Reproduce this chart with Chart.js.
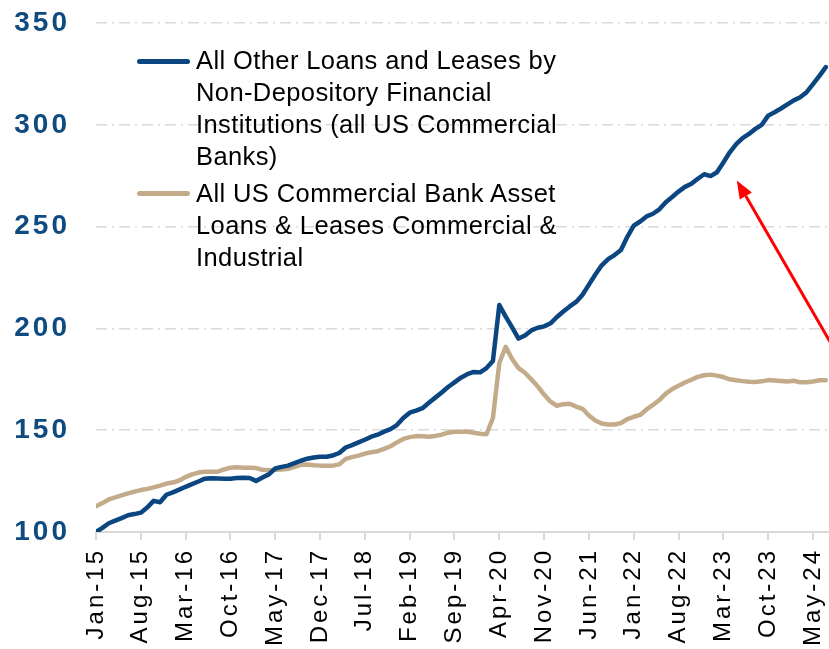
<!DOCTYPE html>
<html>
<head>
<meta charset="utf-8">
<script src="https://cdn.jsdelivr.net/npm/chart.js@4.4.1/dist/chart.umd.min.js"></script>
<style>
  body { margin: 0; background: #fff; }
  #wrap { position: relative; width: 829px; height: 649px; overflow: hidden; }
  .swatch { position: absolute; left: 137px; width: 53px; height: 5px; border-radius: 3px; }
  .label { position: absolute; left: 196px; font-family: "Liberation Sans", Arial, sans-serif;
           font-size: 25.5px; line-height: 31.7px; letter-spacing: 0.4px; color: #000; white-space: nowrap; }
</style>
</head>
<body>
<div id="wrap">
  <canvas id="chart" width="829" height="649"></canvas>
  <div class="swatch" style="top:58.5px;background:#0b4680"></div>
  <div class="label" style="top:45.4px">All Other Loans and Leases by<br>Non-Depository Financial<br>Institutions (all US Commercial<br>Banks)</div>
  <div class="swatch" style="top:191px;background:#c3ab8a"></div>
  <div class="label" style="top:178.4px">All US Commercial Bank Asset<br>Loans &amp; Leases Commercial &amp;<br>Industrial</div>
</div>
<script>
// index, Jan-15 = 0 ... Jul-24 = 114 (monthly)
const tickLabels = ['Jan-15', 'Aug-15', 'Mar-16', 'Oct-16', 'May-17', 'Dec-17', 'Jul-18', 'Feb-19', 'Sep-19',
    'Apr-20', 'Nov-20', 'Jun-21', 'Jan-22', 'Aug-22', 'Mar-23', 'Oct-23', 'May-24'];

// All Other Loans and Leases by Non-Depository Financial Institutions
const nonDepository = [
    100, 102, 104.3, 105.6, 106.8, 108.2, 108.8, 109.5, 112, 115.3,
    114.6, 118.3, 119.5, 120.8, 122.2, 123.5, 124.8, 126.2, 126.4, 126.3,
    126.2, 126.2, 126.5, 126.6, 126.5, 125.1, 126.8, 128.3, 131.2, 132,
    132.6, 133.8, 135, 136, 136.6, 137, 137, 137.6, 138.8, 141.5,
    142.7, 144, 145.3, 146.8, 147.8, 149.3, 150.5, 152.5, 156, 158.6,
    159.6, 160.8, 163.5, 166, 168.5, 171.2, 173.5, 175.8, 177.5, 178.6,
    178.4, 180.5, 184, 211.5, 205.8, 200.5, 195, 196.5, 199, 200.3,
    201, 202.5, 205.6, 208.3, 210.8, 213, 216.5, 221.5, 226.5, 231,
    234, 236, 238.5, 245, 250.5, 252.5, 255, 256.3, 258.5, 262,
    264.5, 267.2, 269.5, 271, 273.5, 275.7, 274.8, 276.7, 281.5, 286.5,
    290.5, 293.5, 295.5, 298, 300, 304.5, 306.2, 308, 310, 312,
    313.5, 316, 320, 324, 328.3
];

// All US Commercial Bank Asset Loans & Leases Commercial & Industrial
const commercialIndustrial = [
    112.7, 114.2, 116, 117, 118, 119, 119.8, 120.6, 121.2, 121.9,
    122.8, 123.8, 124.3, 125.3, 127, 128.3, 129.2, 129.6, 129.6, 129.6,
    130.7, 131.6, 131.8, 131.6, 131.5, 131.4, 130.6, 130.3, 130.6, 130.7,
    131, 132, 133, 133.2, 132.8, 132.6, 132.6, 132.6, 133.2, 135.9,
    136.8, 137.5, 138.5, 139.2, 139.7, 140.8, 142.1, 144, 145.7, 146.6,
    147.1, 147, 146.8, 147.2, 147.8, 148.8, 149.2, 149.3, 149.2, 148.7,
    148.3, 148, 156, 183, 191, 185, 180.5, 178.2, 175, 171.5,
    167.5, 164, 162, 162.8, 163, 161.6, 160.5, 157.2, 154.8, 153.3,
    152.8, 152.8, 153.5, 155.5, 156.6, 157.5, 160.2, 162.4, 164.8, 168,
    170.2, 171.8, 173.4, 174.8, 176.2, 177, 177.3, 176.8, 176.1, 175,
    174.5, 174.1, 173.8, 173.7, 174, 174.6, 174.4, 174.2, 173.9, 174.3,
    173.5, 173.6, 173.9, 174.5, 174.5
];

// red arrow annotation, in data units [month index, value]
const arrowTip = [100.1, 272.7];
const arrowTail = [118.9, 170.4];

const toPoints = arr => arr.map((v, i) => ({ x: i, y: v }));

// wide character spacing of the tick labels
const spacingPlugin = {
    id: 'spacing',
    beforeUpdate(chart) { chart.ctx.letterSpacing = '3px'; },
    beforeDraw(chart) { chart.ctx.letterSpacing = '3px'; }
};

const arrowPlugin = {
    id: 'arrow',
    afterDraw(chart) {
        const { ctx, scales: { x, y } } = chart;
        const tx = x.getPixelForValue(arrowTip[0]), ty = y.getPixelForValue(arrowTip[1]);
        const fx = x.getPixelForValue(arrowTail[0]), fy = y.getPixelForValue(arrowTail[1]);
        const ang = Math.atan2(ty - fy, tx - fx);
        const len = 18, half = 7;
        const bx = tx - Math.cos(ang) * len, by = ty - Math.sin(ang) * len;
        ctx.save();
        ctx.strokeStyle = '#ff0000';
        ctx.fillStyle = '#ff0000';
        ctx.lineWidth = 3;
        ctx.beginPath();
        ctx.moveTo(fx, fy);
        ctx.lineTo(bx, by);
        ctx.stroke();
        ctx.beginPath();
        ctx.moveTo(tx, ty);
        ctx.lineTo(bx + Math.sin(ang) * half, by - Math.cos(ang) * half);
        ctx.lineTo(bx - Math.sin(ang) * half, by + Math.cos(ang) * half);
        ctx.closePath();
        ctx.fill();
        ctx.restore();
    }
};

new Chart(document.getElementById('chart'), {
    type: 'line',
    data: {
        datasets: [{
            label: 'All Other Loans and Leases by Non-Depository Financial Institutions (all US Commercial Banks)',
            data: toPoints(nonDepository),
            borderColor: '#0b4680',
            borderWidth: 4.5,
            pointRadius: 0,
            borderJoinStyle: 'round',
            borderCapStyle: 'round'
        }, {
            label: 'All US Commercial Bank Asset Loans & Leases Commercial & Industrial',
            data: toPoints(commercialIndustrial),
            borderColor: '#c3ab8a',
            borderWidth: 4.5,
            pointRadius: 0,
            borderJoinStyle: 'round',
            borderCapStyle: 'round'
        }]
    },
    options: {
        responsive: false,
        animation: false,
        devicePixelRatio: 1,
        layout: { padding: { top: 23, right: 0, left: 0, bottom: 0 } },
        plugins: { legend: { display: false }, tooltip: { enabled: false } },
        scales: {
            x: {
                type: 'linear',
                min: 0,
                max: 114.5,
                afterFit: s => { s.height = 117; s.paddingLeft = 0; s.paddingRight = 0; },
                ticks: {
                    stepSize: 7,
                    includeBounds: false,
                    autoSkip: false,
                    maxTicksLimit: 20,
                    minRotation: 90,
                    maxRotation: 90,
                    padding: 8,
                    color: '#000',
                    font: { family: "'Liberation Sans', Arial, sans-serif", size: 24 },
                    callback: v => tickLabels[Math.round(v / 7)]
                },
                grid: { drawOnChartArea: false, drawTicks: true, tickLength: 8, color: '#d9d9d9', lineWidth: 2 },
                border: { display: true, color: '#d9d9d9', width: 2 }
            },
            y: {
                min: 100,
                max: 350,
                afterFit: s => { s.width = 96; s.paddingTop = 0; s.paddingBottom = 0; },
                ticks: {
                    stepSize: 50,
                    padding: 26,
                    color: '#0f4b80',
                    font: { family: "'Liberation Sans', Arial, sans-serif", size: 28, weight: 'bold' }
                },
                grid: { drawTicks: false, color: '#d9d9d9', lineWidth: 1.5 },
                border: { display: false, dash: [11, 5, 2, 5] }
            }
        }
    },
    plugins: [spacingPlugin, arrowPlugin]
});
</script>
</body>
</html>
